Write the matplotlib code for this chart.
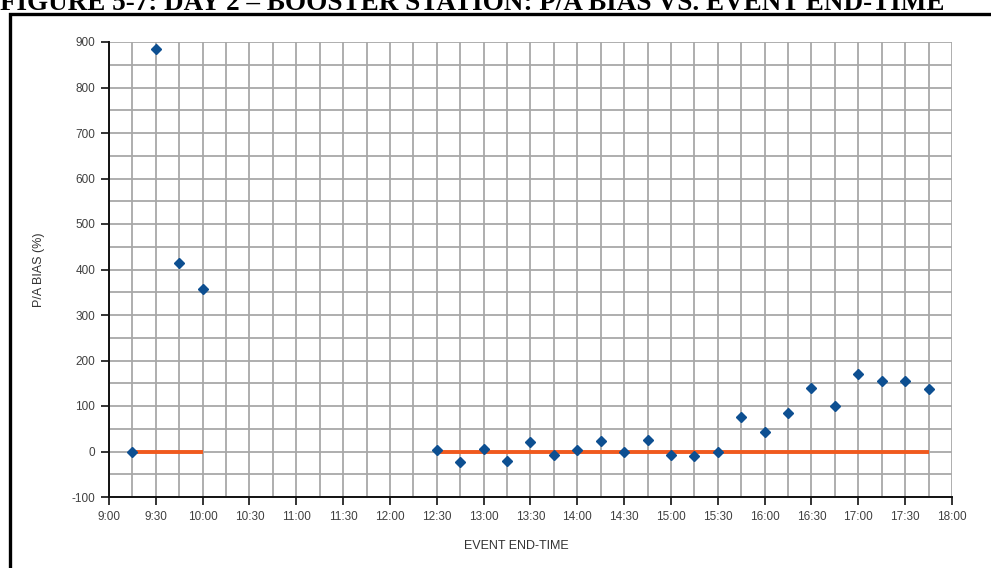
import matplotlib
matplotlib.use("Agg")
import matplotlib.pyplot as plt
import numpy as np
from matplotlib.ticker import MultipleLocator, FuncFormatter
from matplotlib.patches import Rectangle

plt.rcParams["axes.unicode_minus"] = False

# ---- data ----
times = ["9:15", "9:30", "9:45", "10:00",
         "12:30", "12:45", "13:00", "13:15", "13:30", "13:45", "14:00", "14:15",
         "14:30", "14:45", "15:00", "15:15", "15:30", "15:45", "16:00", "16:15",
         "16:30", "16:45", "17:00", "17:15", "17:30", "17:45"]
bias = [-2, 885, 415, 358,
        4, -23, 6, -20, 21, -7, 4, 23,
        -1, 26, -7, -10, 0, 76, 43, 84,
        140, 101, 170, 154, 154, 138]
ref_times = ["9:15", "10:00", None, "12:30", "17:45"]
ref_vals = [0, 0, None, 0, 0]

title = "FIGURE 5-7: DAY 2 \u2013 BOOSTER STATION: P/A BIAS VS. EVENT END-TIME"
xlabel = "EVENT END-TIME"
ylabel = "P/A BIAS (%)"

def to_hours(t):
    h, m = t.split(":")
    return int(h) + int(m) / 60.0

x = [to_hours(t) for t in times]
rx = [to_hours(t) if t else np.nan for t in ref_times]
ry = [v if v is not None else np.nan for v in ref_vals]

W, H = 991, 568
fig = plt.figure(figsize=(W / 100, H / 100), dpi=100)
fig.patch.set_facecolor("white")

# outer frame (extends beyond right/bottom edges)
fig.patches.append(Rectangle((9.5 / W, -0.1), 1.2, (H - 13.5) / H + 0.1,
                             transform=fig.transFigure, fill=False,
                             edgecolor="black", linewidth=2.4, zorder=0))

# title (top clipped by the page edge, as in the reference)
fig.text(0.0, 1 - 10 / H, title, ha="left", va="baseline",
         fontsize=19.5, fontweight="bold", family="Liberation Serif")

ax = fig.add_axes([109 / W, 1 - 497 / H, (952 - 109) / W, (497 - 42) / H])
ax.set_xlim(9, 18)
ax.set_ylim(-100, 900)

ax.xaxis.set_major_locator(MultipleLocator(0.5))
ax.xaxis.set_minor_locator(MultipleLocator(0.25))
ax.yaxis.set_major_locator(MultipleLocator(100))
ax.yaxis.set_minor_locator(MultipleLocator(50))

def fmt(v, pos):
    h = int(np.floor(v + 1e-9))
    m = int(round((v - h) * 60))
    return f"{h}:{m:02d}"
ax.xaxis.set_major_formatter(FuncFormatter(fmt))

ax.grid(True, which="both", color="#a8a8a8", linewidth=1.3)
ax.set_axisbelow(True)

for s in ["top", "right"]:
    ax.spines[s].set_visible(False)
for s in ["left", "bottom"]:
    ax.spines[s].set_linewidth(1.4)
    ax.spines[s].set_color("#111111")

ax.tick_params(which="major", length=6, width=1.2, color="#111111",
               labelsize=8.5, labelcolor="#404040", pad=4)
ax.tick_params(which="minor", length=0)
for lab in ax.get_xticklabels() + ax.get_yticklabels():
    lab.set_family("Liberation Sans")

ax.plot(rx, ry, color="#f05a1e", linewidth=2.8, zorder=3, solid_capstyle="butt")
ax.plot(x, bias, linestyle="none", marker="D", markersize=5,
        color="#0d4f91", zorder=4, clip_on=False)

ax.set_xlabel(xlabel, fontsize=9, color="#333333", family="Liberation Sans")
ax.xaxis.set_label_coords((516 - 109) / (952 - 109), -0.095)
ax.set_ylabel(ylabel, fontsize=9, color="#333333", family="Liberation Sans")
ax.yaxis.set_label_coords((45 - 109) / (952 - 109), 0.5)

fig.savefig("out.png", dpi=100)
